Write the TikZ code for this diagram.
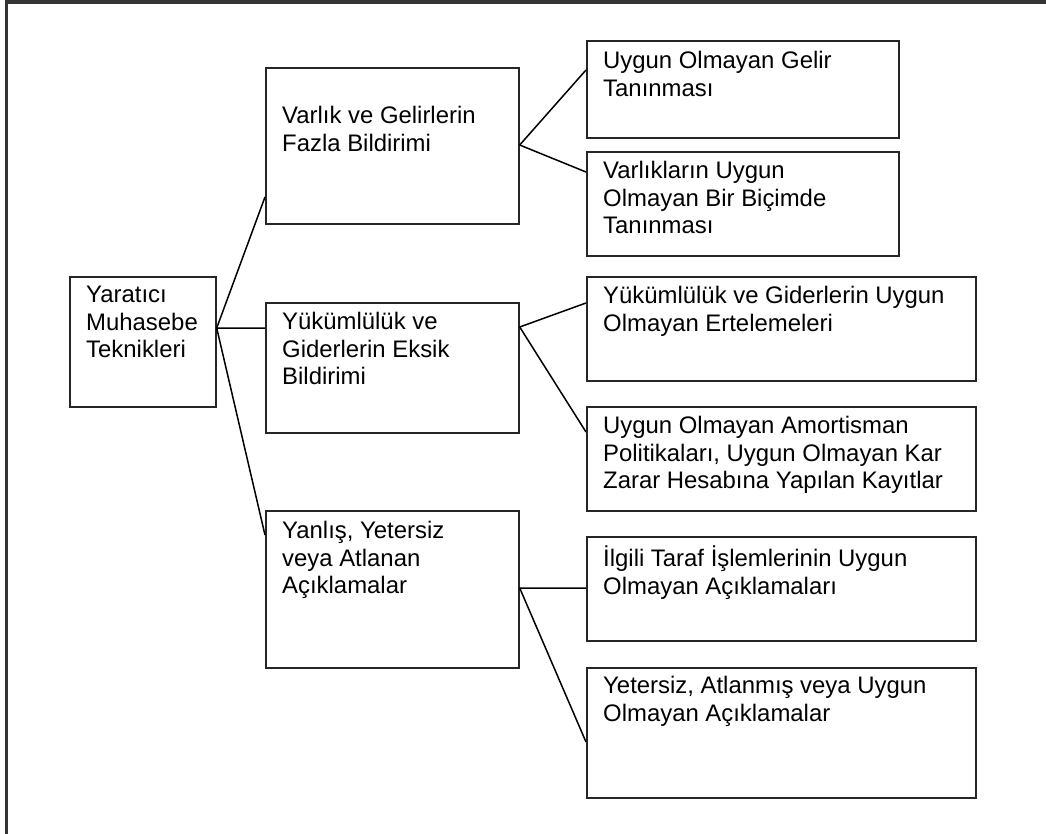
\documentclass[tikz,border=0pt]{standalone}
\usepackage{fontspec}
\setmainfont{Liberation Sans}
\begin{document}
\begin{tikzpicture}[x=1bp, y=-1bp,
    box/.style={draw=black!85, line width=1.7bp, anchor=north west, inner sep=0pt},
    txt/.style={anchor=north west, align=left, inner sep=0pt, font=\fontsize{23.9bp}{27.5bp}\selectfont,
      execute at begin node={\rule{0pt}{22bp}}},
    link/.style={draw=black, line width=1.5bp}]
      \clip (0,0) rectangle (1046,834);
      % outer frame
      \draw[line width=3bp, draw=black!80] (6.5,2) rectangle (1100,900);
      % root box
      \node[box, minimum width=146bp, minimum height=130bp] (root) at (69,276) {};
      \node[txt] (root-t) at ([xshift=17bp, yshift=-10bp]root.north west) {Yaratıcı\\Muhasebe\\Teknikleri};
      % middle level
      \node[box, minimum width=253bp, minimum height=156bp] (fazla) at (265,67) {};
      \node[txt] (fazla-t) at ([xshift=17bp, yshift=-39bp]fazla.north west) {Varlık ve Gelirlerin\\Fazla Bildirimi};
      \node[box, minimum width=253bp, minimum height=130bp] (eksik) at (265,302) {};
      \node[txt] (eksik-t) at ([xshift=17bp, yshift=-10bp]eksik.north west) {Yükümlülük ve\\Giderlerin Eksik\\Bildirimi};
      \node[box, minimum width=253bp, minimum height=157bp] (acik) at (265,510) {};
      \node[txt] (acik-t) at ([xshift=17bp, yshift=-11bp]acik.north west) {Yanlış, Yetersiz\\veya Atlanan\\Açıklamalar};
      % right level
      \node[box, minimum width=312bp, minimum height=97bp] (gelir) at (586,40) {};
      \node[txt] (gelir-t) at ([xshift=17bp, yshift=-11bp]gelir.north west) {Uygun Olmayan Gelir\\Tanınması};
      \node[box, minimum width=312bp, minimum height=104bp] (varlik) at (586,151) {};
      \node[txt] (varlik-t) at ([xshift=17bp, yshift=-10bp]varlik.north west) {Varlıkların Uygun\\Olmayan Bir Biçimde\\Tanınması};
      \node[box, minimum width=389bp, minimum height=104bp] (erte) at (586,276) {};
      \node[txt] (erte-t) at ([xshift=17bp, yshift=-10bp]erte.north west) {Yükümlülük ve Giderlerin Uygun\\Olmayan Ertelemeleri};
      \node[box, minimum width=389bp, minimum height=104bp] (amort) at (586,406) {};
      \node[txt] (amort-t) at ([xshift=17bp, yshift=-10bp]amort.north west) {Uygun Olmayan Amortisman\\Politikaları, Uygun Olmayan Kar\\Zarar Hesabına Yapılan Kayıtlar};
      \node[box, minimum width=389bp, minimum height=104bp] (ilgili) at (586,536) {};
      \node[txt] (ilgili-t) at ([xshift=17bp, yshift=-10bp]ilgili.north west) {İlgili Taraf İşlemlerinin Uygun\\Olmayan Açıklamaları};
      \node[box, minimum width=389bp, minimum height=130bp] (yeter) at (586,667) {};
      \node[txt] (yeter-t) at ([xshift=17bp, yshift=-9bp]yeter.north west) {Yetersiz, Atlanmış veya Uygun\\Olmayan Açıklamalar};
      % branch points
      \coordinate (root-h) at ([yshift=-52bp]root.north east);
      \coordinate (fazla-h) at ([yshift=-78bp]fazla.north east);
      \coordinate (eksik-h) at ([yshift=-25bp]eksik.north east);
      \coordinate (acik-h) at ([yshift=-78bp]acik.north east);
      % connectors
      \draw[link] (root-h) -- ([yshift=-130bp]fazla.north west);
      \draw[link] (root-h) -- ([yshift=-26bp]eksik.north west);
      \draw[link] (root-h) -- ([yshift=-25bp]acik.north west);
      \draw[link] (fazla-h) -- ([yshift=-30bp]gelir.north west);
      \draw[link] (fazla-h) -- ([yshift=-21bp]varlik.north west);
      \draw[link] (eksik-h) -- ([yshift=-27bp]erte.north west);
      \draw[link] (eksik-h) -- ([yshift=-26bp]amort.north west);
      \draw[link] (acik-h) -- ([yshift=-52bp]ilgili.north west);
      \draw[link] (acik-h) -- ([yshift=-75bp]yeter.north west);
    \end{tikzpicture}
\end{document}
